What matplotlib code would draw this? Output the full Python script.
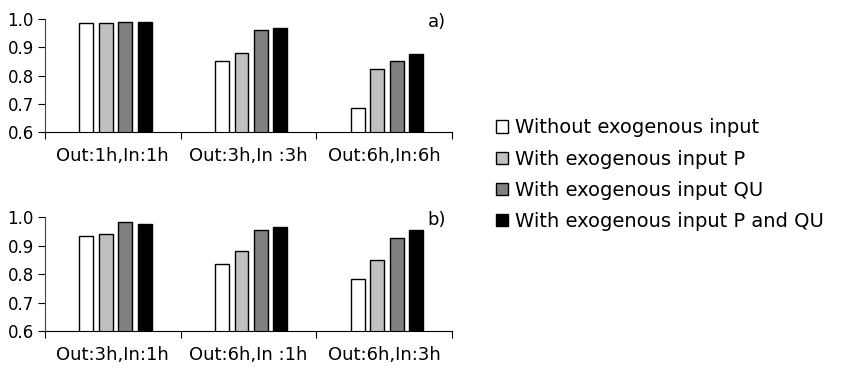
import numpy as np
import matplotlib.pyplot as plt
from matplotlib.patches import Patch

series = ["Without exogenous input", "With exogenous input P",
          "With exogenous input QU", "With exogenous input P and QU"]
colors = ["white", "#c0c0c0", "#808080", "black"]

cats_a = ["Out:1h,In:1h", "Out:3h,In :3h", "Out:6h,In:6h"]
vals_a = [[0.985, 0.850, 0.685],
          [0.985, 0.880, 0.822],
          [0.990, 0.960, 0.850],
          [0.990, 0.968, 0.875]]

cats_b = ["Out:3h,In:1h", "Out:6h,In :1h", "Out:6h,In:3h"]
vals_b = [[0.932, 0.834, 0.782],
          [0.942, 0.880, 0.850],
          [0.982, 0.955, 0.925],
          [0.977, 0.966, 0.955]]

fig = plt.figure(figsize=(8.58, 3.73), dpi=100)
ax_a = fig.add_axes([0.0524, 0.646, 0.4744, 0.303])
ax_b = fig.add_axes([0.0524, 0.1126, 0.4744, 0.3056])


def draw(ax, cats, vals, tag):
    x = np.arange(len(cats)) + 0.52
    w = 0.103
    step = 0.143
    for i, v in enumerate(vals):
        ax.bar(x + (i - 1.5) * step, v, w, bottom=0, color=colors[i],
               edgecolor="black", linewidth=1.0)
    ax.set_ylim(0.6, 1.0)
    ax.set_xlim(0, 3)
    ax.set_yticks([0.6, 0.7, 0.8, 0.9, 1.0])
    ax.set_yticklabels(["0.6", "0.7", "0.8", "0.9", "1.0"], fontsize=12)
    ax.set_xticks([0, 1, 2, 3])
    ax.set_xticklabels([])
    ax.set_xticks([0.5, 1.5, 2.5], minor=True)
    ax.set_xticklabels(cats, minor=True, fontsize=13)
    ax.tick_params(axis="x", which="minor", length=0, pad=11)
    ax.tick_params(axis="x", which="major", length=5, direction="out")
    ax.tick_params(axis="y", length=5, direction="out", pad=3)
    for s in ["top", "right"]:
        ax.spines[s].set_visible(False)
    ax.spines["left"].set_color("#444444")
    ax.text(0.985, 0.97, tag, transform=ax.transAxes, ha="right", va="center",
            fontsize=13)


draw(ax_a, cats_a, vals_a, "a)")
draw(ax_b, cats_b, vals_b, "b)")

handles = [Patch(facecolor=c, edgecolor="black", linewidth=1.0) for c in colors]
fig.legend(handles, series, loc="center left", bbox_to_anchor=(0.558, 0.532),
           frameon=False, fontsize=14, handlelength=0.6, handleheight=0.6,
           handletextpad=0.35, labelspacing=0.62)

fig.savefig("out.png", dpi=100)
